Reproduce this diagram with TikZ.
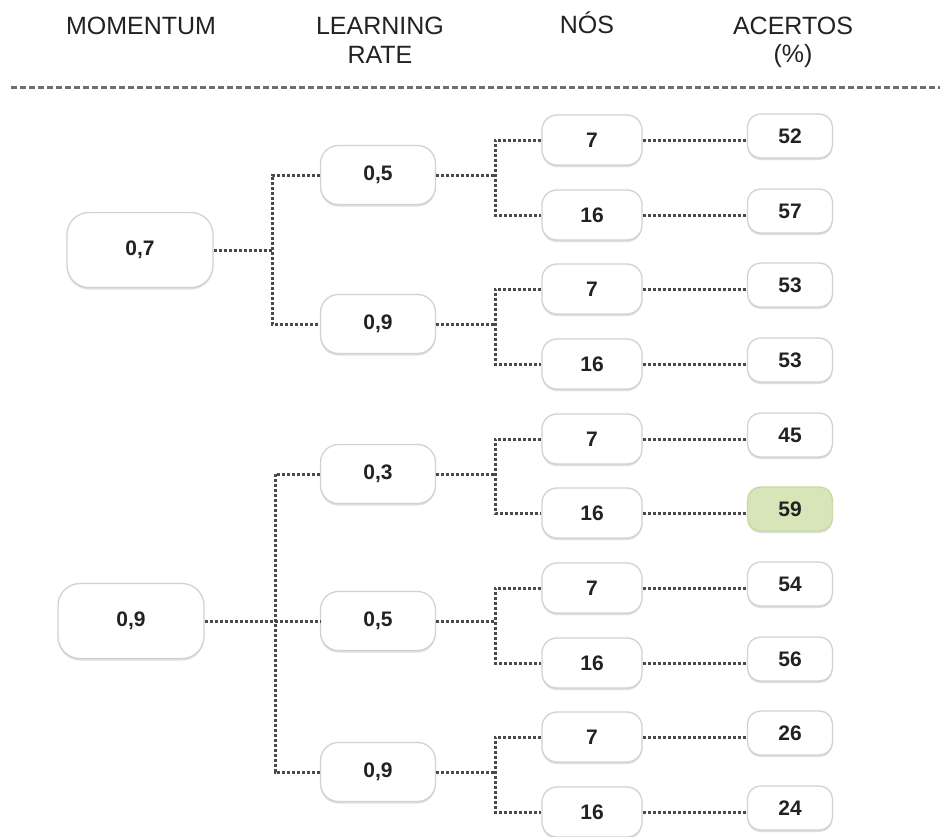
\documentclass[tikz,border=0pt]{standalone}
\usepackage{fontspec}
\setmainfont{Liberation Sans}
\usetikzlibrary{shadows}
\definecolor{txt}{HTML}{222222}
\definecolor{dotc}{HTML}{4A4A4A}
\definecolor{dashc}{HTML}{6E6E6E}
\definecolor{boxline}{HTML}{D2D2D2}
\definecolor{greenfill}{HTML}{D7E5B9}
\definecolor{greenline}{HTML}{C8D9A5}
\begin{document}
\begin{tikzpicture}[x=1pt,y=-1pt,
  hdr/.style={font=\fontsize{25}{29}\selectfont, text=txt, anchor=base, inner sep=0pt},
  box/.style={draw=boxline, line width=1.3pt, fill=white, text=txt,
    font=\fontsize{21}{24}\selectfont\bfseries, inner sep=0pt,
    drop shadow={shadow xshift=0pt, shadow yshift=-2pt, fill=black!13, opacity=1}},
  mombox/.style={box, minimum width=146pt, minimum height=75pt, rounded corners=22pt},
  lrbox/.style={box, minimum width=115pt, minimum height=59pt, rounded corners=18pt},
  nodebox/.style={box, minimum width=100pt, minimum height=50pt, rounded corners=15pt},
  accbox/.style={box, minimum width=85pt, minimum height=44pt, rounded corners=13pt},
  bestbox/.style={accbox, fill=greenfill, draw=greenline},
  dotline/.style={draw=dotc, line width=3pt, dash pattern=on 3pt off 2pt},
  sepline/.style={draw=dashc, line width=3pt, dash pattern=on 6pt off 3pt}
]
\useasboundingbox[fill=white] (0,0) rectangle (940,836);

% headers
\node[hdr] (hmom) at (141,34) {MOMENTUM};
\node[hdr] (hlr1) at (380,34) {LEARNING};
\node[hdr] (hlr2) at (380,63) {RATE};
\node[hdr] (hnos) at (587,33) {NÓS};
\node[hdr] (hac1) at (793,34) {ACERTOS};
\node[hdr] (hac2) at (793,62) {(\%)};
\coordinate (sepL) at (11,87);
\coordinate (sepR) at (940,87);
\draw[sepline] (sepL) -- (sepR);

% momentum
\node[mombox] (m1) at (140,250) {0,7};
\node[mombox] (m2) at (131,621) {0,9};

% learning rate
\node[lrbox] (l1) at (378,175) {0,5};
\node[lrbox] (l2) at (378,324) {0,9};
\node[lrbox] (l3) at (378,474) {0,3};
\node[lrbox] (l4) at (378,621) {0,5};
\node[lrbox] (l5) at (378,772) {0,9};

% nodes
\node[nodebox] (n1) at (592,140) {7};
\node[nodebox] (n2) at (592,215) {16};
\node[nodebox] (n3) at (592,289) {7};
\node[nodebox] (n4) at (592,364) {16};
\node[nodebox] (n5) at (592,439) {7};
\node[nodebox] (n6) at (592,513) {16};
\node[nodebox] (n7) at (592,588) {7};
\node[nodebox] (n8) at (592,663) {16};
\node[nodebox] (n9) at (592,737) {7};
\node[nodebox] (n10) at (592,812) {16};

% accuracies
\node[accbox] (a1) at (790,136) {52};
\node[accbox] (a2) at (790,211) {57};
\node[accbox] (a3) at (790,285) {53};
\node[accbox] (a4) at (790,360) {53};
\node[accbox] (a5) at (790,435) {45};
\node[bestbox] (a6) at (790,509) {59};
\node[accbox] (a7) at (790,584) {54};
\node[accbox] (a8) at (790,659) {56};
\node[accbox] (a9) at (790,733) {26};
\node[accbox] (a10) at (790,808) {24};

% junction coordinates
\coordinate (k1) at (272,252);
\coordinate (k2) at (275,621);
\coordinate (j1) at (495,177);
\coordinate (j2) at (495,326);
\coordinate (j3) at (495,476);
\coordinate (j4) at (495,625);
\coordinate (j5) at (495,775);

% momentum -> learning rate
\draw[dotline] (m1.east) -- (m1.east -| k1);
\draw[dotline] (l1.west) -- (l1.west -| k1) -- (l2.west -| k1) -- (l2.west);
\draw[dotline] (m2.east) -- (l4.west);
\draw[dotline] (l3.west) -- (l3.west -| k2) -- (l5.west -| k2) -- (l5.west);

% learning rate -> nodes
\foreach \l/\a/\b/\j in {l1/n1/n2/j1, l2/n3/n4/j2, l3/n5/n6/j3, l4/n7/n8/j4, l5/n9/n10/j5}{
  \draw[dotline] (\l.east) -- (\l.east -| \j);
  \draw[dotline] (\a.west) -- (\a.west -| \j) -- (\b.west -| \j) -- (\b.west);
}

% nodes -> accuracies
\foreach \n/\a in {n1/a1, n2/a2, n3/a3, n4/a4, n5/a5, n6/a6, n7/a7, n8/a8, n9/a9, n10/a10}{
  \draw[dotline] (\n.east) -- (\n.east -| \a.west);
}
\end{tikzpicture}
\end{document}
